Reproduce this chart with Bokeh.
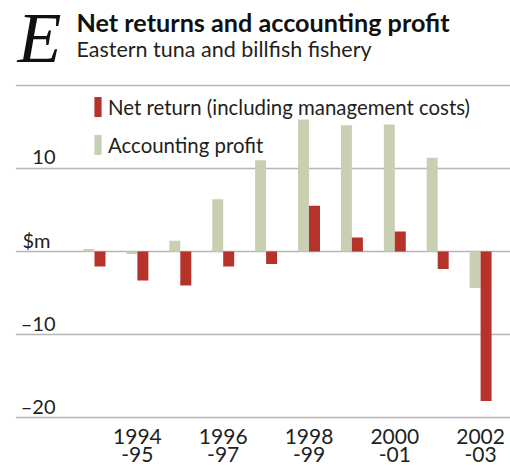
from bokeh.plotting import figure
from bokeh.layouts import column
from bokeh.models import (ColumnDataSource, Range1d, FixedTicker, Label,
                          Legend, LegendItem)
from bokeh.core.properties import value
from bokeh.transform import dodge
from bokeh.embed import file_html
from bokeh.resources import INLINE

# ---- data ----
years = ["1993-94", "1994-95", "1995-96", "1996-97", "1997-98",
         "1998-99", "1999-00", "2000-01", "2001-02", "2002-03"]
accounting_profit = [0.3, -0.3, 1.3, 6.3, 11.0, 15.9, 15.2, 15.3, 11.3, -4.4]
net_return = [-1.8, -3.5, -4.1, -1.8, -1.5, 5.5, 1.7, 2.4, -2.1, -18.0]
x_tick_idx = [1, 3, 5, 7, 9]
x_tick_top = ["1994", "1996", "1998", "2000", "2002"]
x_tick_bottom = ["-95", "-97", "-99", "-01", "-03"]
y_ticks = [10, 0, -10, -20]
y_tick_labels = ["10", "$m", "\u201310", "\u201320"]
grid_values = [20, 10, 0, -10, -20]

RED = "#b5332a"
GREEN = "#c9cfb3"
TXT = "#231f20"
FONT = "Lato"
W = 510
SHIFT = 0.42  # em: alphabetic baseline correction of the svg text renderer


def blank(fig):
    fig.outline_line_color = None
    fig.background_fill_color = "white"
    fig.border_fill_color = "white"
    fig.xaxis.visible = False
    fig.yaxis.visible = False
    fig.xgrid.visible = False
    fig.ygrid.visible = False


# ---- header: data x = page x, data y = 80 - page y ----
HH = 80
head = figure(width=W, height=HH, output_backend="svg", toolbar_location=None,
              x_range=Range1d(15, W), y_range=Range1d(1, HH - 1),
              min_border_left=15, min_border_right=0, min_border_top=1,
              min_border_bottom=1)
blank(head)


def head_text(x, base, txt, size, font, shift, style="normal", color=TXT):
    head.text(x=[x], y=[HH - base + shift * size], text=[txt], text_font=value(font),
              text_font_size=f"{size}px", text_font_style=style, text_color=color,
              text_align="left", text_baseline="alphabetic")


head_text(17, 63, "E", 72, "Liberation Serif", 0.36, "italic", "#111111")
head_text(76, 31, "Net returns and accounting profit", 25.2, FONT, 0.36, "bold", "#111111")
head_text(76, 57, "Eastern tuna and billfish fishery", 21.5, FONT, 0.38)

# ---- main chart ----
src = ColumnDataSource(dict(idx=list(range(len(years))), year=years,
                            profit=accounting_profit, net=net_return))
xr = Range1d(-1.8415, 9.697)
p = figure(width=W, height=342, output_backend="svg", toolbar_location=None,
           x_range=xr, y_range=Range1d(-20.6, 20.6),
           min_border_left=15, min_border_right=0, min_border_top=0,
           min_border_bottom=0)
blank(p)

bw = 0.256
r_profit = p.vbar(x=dodge("idx", -bw / 2), top="profit", bottom=0, width=bw,
                  source=src, fill_color=GREEN, line_color=None)
r_net = p.vbar(x=dodge("idx", bw / 2), top="net", bottom=0, width=bw,
               source=src, fill_color=RED, line_color=None)

p.ygrid.visible = True
p.ygrid.ticker = FixedTicker(ticks=grid_values)
p.ygrid.grid_line_color = "#b5b5b5"
p.ygrid.grid_line_width = 1.5
p.ygrid.level = "underlay"

for v, s in zip(y_ticks, y_tick_labels):
    p.add_layout(Label(x=35 if s == "$m" else 40, y=v, x_units="screen", y_units="data",
                       text=s, text_align="right", text_baseline="alphabetic",
                       y_offset=3 + SHIFT * 20, text_font=FONT, text_font_size="20px",
                       text_color=TXT))

legend = Legend(items=[LegendItem(label="Net return (including management costs)", renderers=[r_net]),
                       LegendItem(label="Accounting profit", renderers=[r_profit])],
                location=(78, 265), orientation="vertical")
legend.glyph_width = 9
legend.glyph_height = 25
legend.label_height = 25
legend.label_standoff = 6
legend.spacing = 13
legend.padding = 0
legend.margin = 0
legend.border_line_color = None
legend.background_fill_alpha = 0
legend.label_text_font = FONT
legend.label_text_font_size = "20.4px"
legend.label_text_color = TXT
p.add_layout(legend, "center")

# ---- x tick labels: data y = 467 - page y ----
FH = 45
foot = figure(width=W, height=FH, output_backend="svg", toolbar_location=None,
              x_range=xr, y_range=Range1d(0, FH),
              min_border=0, min_border_left=15, min_border_right=0, min_border_top=0,
              min_border_bottom=0)
blank(foot)
tick_src = ColumnDataSource(dict(x=x_tick_idx, top=x_tick_top, bottom=x_tick_bottom))
for col, base in (("top", 23), ("bottom", 41)):
    foot.text(x="x", y=FH - base + SHIFT * 21, text=col, source=tick_src,
              text_align="center", text_baseline="alphabetic", text_font=value(FONT),
              text_font_size="21px", text_color=TXT)

layout = column(head, p, foot, spacing=0)
open("out.html", "w").write(file_html(layout, INLINE))
